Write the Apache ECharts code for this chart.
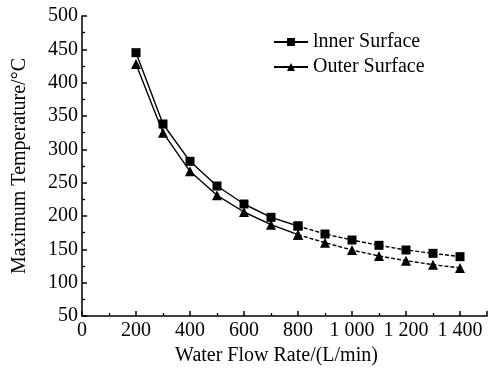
<!DOCTYPE html>
<html>
<head>
<meta charset="utf-8">
<script src="https://cdn.jsdelivr.net/npm/echarts@6/dist/echarts.min.js"></script>
<style>html,body{margin:0;padding:0;background:#fff}#c{width:488px;height:372px}</style>
</head>
<body>
<div id="c"></div>
<script>
var flowRates = [200, 300, 400, 500, 600, 700, 800, 900, 1000, 1100, 1200, 1300, 1400];
var innerSurface = [445, 338, 282, 245, 218, 198, 185, 173, 164, 156, 149, 144, 139];
var outerSurface = [428, 325, 267, 231, 206, 187, 172, 160, 149, 140, 133, 127, 122];
var seriesNames = ['lnner Surface', 'Outer Surface'];
var dashFrom = 800;

function pairs(vals, solid) {
  var out = [];
  for (var i = 0; i < flowRates.length; i++) {
    var x = flowRates[i];
    if (solid ? x <= dashFrom : x >= dashFrom) out.push([x, vals[i]]);
  }
  return out;
}
function fmtX(v) {
  if (v > 1400) return '';
  if (v >= 1000) return Math.floor(v / 1000) + ' ' + String(v % 1000).padStart(3, '0');
  return String(v);
}
var font = '"Liberation Serif", "Times New Roman", serif';
var black = '#000';
function mk(name, vals, sym, size) {
  var base = {
    name: name, type: 'line', symbol: sym, symbolSize: size,
    itemStyle: {color: black},
    showAllSymbol: true, animation: false
  };
  var a = Object.assign({}, base, {data: pairs(vals, true), lineStyle: {color: black, width: 1.4, type: 'solid'}});
  var b = Object.assign({}, base, {data: pairs(vals, false), lineStyle: {color: black, width: 1.4, type: [4, 2]}});
  return [a, b];
}
var chart = echarts.init(document.getElementById('c'));
chart.setOption({
  backgroundColor: '#fff',
  animation: false,
  grid: {left: 82, right: 1, top: 16, bottom: 56, containLabel: false, outerBoundsMode: 'none'},
  legend: {
    data: seriesNames, orient: 'vertical', left: 268, top: 27, itemGap: 5,
    itemWidth: 34, itemHeight: 10,
    textStyle: {fontFamily: font, fontSize: 20, color: black}
  },
  xAxis: {
    type: 'value', min: 0, max: 1500, interval: 200,
    name: 'Water Flow Rate/(L/min)', nameLocation: 'middle', nameGap: 28,
    nameTextStyle: {fontFamily: font, fontSize: 20, color: black, padding: [0, 16, 0, 0]},
    axisLine: {lineStyle: {color: black, width: 1.5}},
    axisTick: {inside: true, length: 5, lineStyle: {color: black, width: 1.5}},
    minorTick: {show: true, splitNumber: 2, length: 3, lineStyle: {color: black, width: 1.3}},
    splitLine: {show: false},
    axisLabel: {fontFamily: font, fontSize: 20, color: black, margin: 5, formatter: fmtX, showMaxLabel: false}
  },
  yAxis: {
    type: 'value', min: 50, max: 500, interval: 50,
    name: 'Maximum Temperature/°C', nameLocation: 'middle', nameGap: 52,
    nameTextStyle: {fontFamily: font, fontSize: 20, color: black},
    axisLine: {show: true, lineStyle: {color: black, width: 1.5}},
    axisTick: {show: true, inside: true, length: 5, lineStyle: {color: black, width: 1.5}},
    minorTick: {show: true, splitNumber: 2, length: 3, lineStyle: {color: black, width: 1.3}},
    splitLine: {show: false},
    axisLabel: {fontFamily: font, fontSize: 20, color: black, margin: 4}
  },
  series: [].concat(
    mk(seriesNames[0], innerSurface, 'rect', 9),
    mk(seriesNames[1], outerSurface, 'triangle', 10)
  )
});
</script>
</body>
</html>
